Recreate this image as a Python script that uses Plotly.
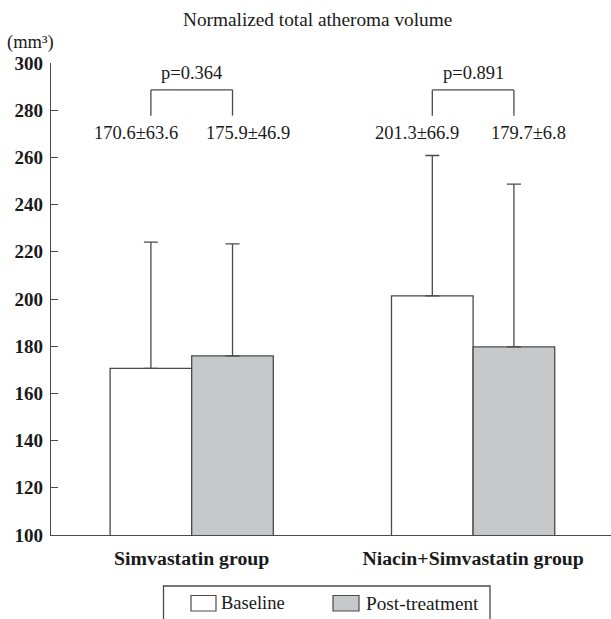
import plotly.graph_objects as go

# ---- data ----
groups = ["Simvastatin group", "Niacin+Simvastatin group"]
baseline = [170.6, 201.3]
post = [175.9, 179.7]
baseline_err = [53.5, 59.5]
post_err = [47.5, 69.0]
baseline_txt = ["170.6±63.6", "201.3±66.9"]
post_txt = ["175.9±46.9", "179.7±6.8"]
p_txt = ["p=0.364", "p=0.891"]
y_ticks = [100, 120, 140, 160, 180, 200, 220, 240, 260, 280, 300]
series_names = ["Baseline", "Post-treatment"]

# ---- styling ----
W, H = 611, 619
L, R, T, B = 51, 0, 63, 84
BARGAP = 0.42
HALF = (1 - BARGAP) / 4          # bar centre offset from group centre
FONT = "Liberation Serif"
TXT = "#1a1a1a"
EDGE = "#4a4a4a"
GRAY = "#c7c8ca"


def px(x):
    return (x - L) / (W - L - R)


def py(y):
    return (H - B - y) / (H - T - B)


def ann(**kw):
    base = dict(showarrow=False, xanchor="center", yanchor="middle")
    base.update(kw)
    return base


fig = go.Figure()
fig.add_trace(go.Bar(
    x=groups, y=baseline, name=series_names[0],
    marker=dict(color="white", line=dict(color=EDGE, width=1.3)),
    error_y=dict(type="data", symmetric=False, array=baseline_err,
                 arrayminus=[0, 0], color=EDGE, thickness=1.3, width=7),
))
fig.add_trace(go.Bar(
    x=groups, y=post, name=series_names[1],
    marker=dict(color=GRAY, line=dict(color=EDGE, width=1.3)),
    error_y=dict(type="data", symmetric=False, array=post_err,
                 arrayminus=[0, 0], color=EDGE, thickness=1.3, width=7),
))

annotations = []
shapes = []

# value labels, brackets, p-values
for i in range(len(groups)):
    annotations.append(ann(x=i - HALF, y=270.3, xref="x", yref="y", text=baseline_txt[i],
                           xshift=-15, font=dict(size=18.5)))
    annotations.append(ann(x=i + HALF, y=270.3, xref="x", yref="y", text=post_txt[i],
                           xshift=15, font=dict(size=18.5)))
    annotations.append(ann(x=i, y=295.8, xref="x", yref="y", text=p_txt[i],
                           font=dict(size=18.5)))
    line = dict(color=EDGE, width=1.3)
    shapes.append(dict(type="line", xref="x", yref="y", x0=i - HALF, x1=i - HALF,
                       y0=277.7, y1=288.6, line=line))
    shapes.append(dict(type="line", xref="x", yref="y", x0=i - HALF, x1=i + HALF,
                       y0=288.6, y1=288.6, line=line))
    shapes.append(dict(type="line", xref="x", yref="y", x0=i + HALF, x1=i + HALF,
                       y0=277.7, y1=288.6, line=line))

# title and unit
annotations.append(ann(x=px(317.5), y=py(20), xref="paper", yref="paper",
                       text="Normalized total atheroma volume", font=dict(size=19.3)))
annotations.append(ann(x=px(30), y=py(42), xref="paper", yref="paper",
                       text="(mm³)", font=dict(size=18.5)))

# manual legend
shapes.append(dict(type="rect", xref="paper", yref="paper",
                   x0=px(163.5), x1=px(490), y0=py(586), y1=py(660),
                   line=dict(color=EDGE, width=1.3), fillcolor="rgba(0,0,0,0)"))
shapes.append(dict(type="rect", xref="paper", yref="paper",
                   x0=px(191), x1=px(216), y0=py(595.5), y1=py(611),
                   line=dict(color=EDGE, width=1.2), fillcolor="white"))
shapes.append(dict(type="rect", xref="paper", yref="paper",
                   x0=px(333), x1=px(359), y0=py(595.5), y1=py(611),
                   line=dict(color=EDGE, width=1.2), fillcolor=GRAY))
annotations.append(ann(x=px(219), y=py(603), xref="paper", yref="paper",
                       text=series_names[0], xanchor="left", font=dict(size=18.5)))
annotations.append(ann(x=px(364), y=py(603), xref="paper", yref="paper",
                       text=series_names[1], xanchor="left", font=dict(size=19.3)))

fig.update_layout(
    width=W, height=H,
    margin=dict(l=L, r=R, t=T, b=B, pad=0),
    paper_bgcolor="white", plot_bgcolor="white",
    barmode="group", bargap=BARGAP, bargroupgap=0,
    showlegend=False,
    font=dict(family=FONT, color=TXT, size=18),
    annotations=annotations,
    shapes=shapes,
    xaxis=dict(
        type="category", range=[-0.5, 1.49],
        showline=True, linecolor=EDGE, linewidth=1.3,
        ticks="", showgrid=False, zeroline=False, ticklabelstandoff=5,
        tickfont=dict(family=FONT, size=19.8, weight="bold", color=TXT),
    ),
    yaxis=dict(
        range=[100, 300], tickvals=y_ticks,
        showline=True, linecolor=EDGE, linewidth=1.3,
        ticks="inside", ticklen=7, tickwidth=1.3, tickcolor=EDGE,
        showgrid=False, zeroline=False, ticklabelstandoff=3,
        tickfont=dict(family=FONT, size=19, weight="bold", color=TXT),
    ),
)

fig.write_html("out.html")
